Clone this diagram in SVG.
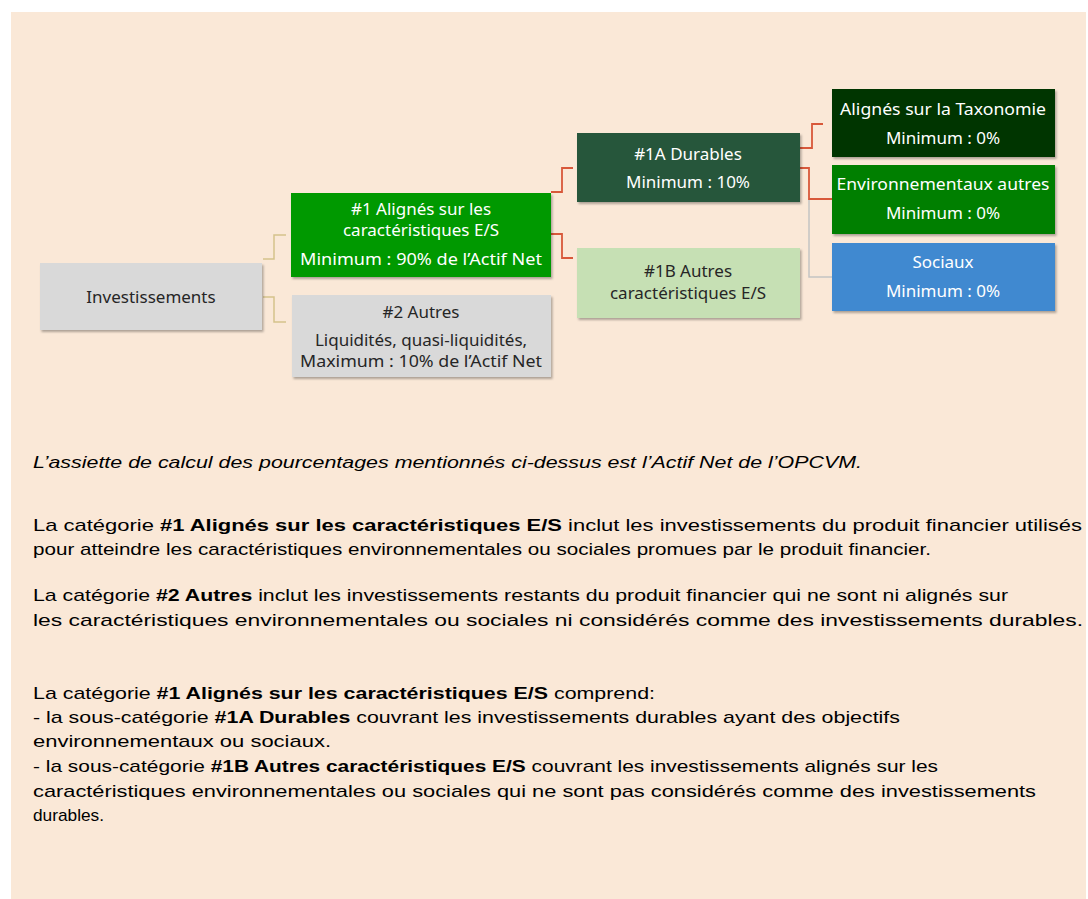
<svg xmlns="http://www.w3.org/2000/svg" width="1088" height="899" viewBox="0 0 1088 899">
<defs>
<filter id="sh" x="-5%" y="-5%" width="115%" height="125%">
<feDropShadow dx="1.5" dy="2" stdDeviation="1.2" flood-color="#000" flood-opacity="0.3"/>
</filter>
<style>
.box{filter:url(#sh);}
.nt{font-family:"Noto Sans","DejaVu Sans",sans-serif;font-size:17px;text-anchor:middle;}
.w{fill:#ffffff;}
.d{fill:#262626;}
.tan{fill:none;stroke:#d5c28c;stroke-width:1.5;}
.red{fill:none;stroke:#d8583a;stroke-width:1.8;}
.gry{fill:none;stroke:#c4c4c4;stroke-width:1.5;}
.body{font-family:"Liberation Sans",Arial,sans-serif;font-size:17px;fill:#000;}
.b{font-weight:bold;}
</style>
</defs>
<rect x="11" y="12" width="1075" height="887" fill="#fae8d7"/>

<g id="connectors">
<path class="tan" d="M263,259 H274 V235 H286"/>
<path class="tan" d="M263,297 H274 V322 H286"/>
<path class="red" d="M551,192 H562 V168 H573"/>
<path class="red" d="M551,234 H562 V258 H573"/>
<path class="red" d="M800,148 H812 V124 H823"/>
<path class="gry" d="M809,199 V277 H832"/>
<path class="red" d="M800,168 H809 V199 H832"/>
</g>

<g id="investissements">
<rect class="box" x="40" y="263" width="222" height="67" fill="#d9d9d9"/>
<text class="nt d" x="151" y="303">Investissements</text>
</g>

<g id="n1">
<rect class="box" x="291" y="193" width="260" height="84" fill="#009900"/>
<text class="nt w" x="421" y="215">#1 Alignés sur les</text>
<text class="nt w" x="421" y="236">caractéristiques E/S</text>
<text class="nt w" x="421" y="265" textLength="242" lengthAdjust="spacingAndGlyphs">Minimum : 90% de l’Actif Net</text>
</g>

<g id="n2">
<rect class="box" x="292" y="295" width="259" height="82" fill="#d9d9d9"/>
<text class="nt d" x="421" y="318">#2 Autres</text>
<text class="nt d" x="421" y="346">Liquidités, quasi-liquidités,</text>
<text class="nt d" x="421" y="367" textLength="242" lengthAdjust="spacingAndGlyphs">Maximum : 10% de l’Actif Net</text>
</g>

<g id="n1a">
<rect class="box" x="577" y="133" width="223" height="69" fill="#26573a"/>
<text class="nt w" x="688" y="160">#1A Durables</text>
<text class="nt w" x="688" y="188">Minimum : 10%</text>
</g>

<g id="n1b">
<rect class="box" x="577" y="248" width="223" height="70" fill="#c6e0b4"/>
<text class="nt d" x="688" y="277">#1B Autres</text>
<text class="nt d" x="688" y="299">caractéristiques E/S</text>
</g>

<g id="taxo">
<rect class="box" x="832" y="89" width="223" height="68" fill="#023602"/>
<text class="nt w" x="943" y="115" textLength="206" lengthAdjust="spacingAndGlyphs">Alignés sur la Taxonomie</text>
<text class="nt w" x="943" y="144">Minimum : 0%</text>
</g>

<g id="env">
<rect class="box" x="832" y="165" width="223" height="69" fill="#007f00"/>
<text class="nt w" x="943" y="190" textLength="213" lengthAdjust="spacingAndGlyphs">Environnementaux autres</text>
<text class="nt w" x="943" y="219">Minimum : 0%</text>
</g>

<g id="soc">
<rect class="box" x="832" y="243" width="223" height="68" fill="#4089d0"/>
<text class="nt w" x="943" y="268">Sociaux</text>
<text class="nt w" x="943" y="297">Minimum : 0%</text>
</g>

<g id="texte">
<text class="body" x="33" y="468" font-style="italic" textLength="829" lengthAdjust="spacingAndGlyphs">L’assiette de calcul des pourcentages mentionnés ci-dessus est l’Actif Net de l’OPCVM.</text>
<text class="body" x="33" y="531" textLength="1049" lengthAdjust="spacingAndGlyphs">La catégorie <tspan class="b">#1 Alignés sur les caractéristiques E/S</tspan> inclut les investissements du produit financier utilisés</text>
<text class="body" x="33" y="555" textLength="898" lengthAdjust="spacingAndGlyphs">pour atteindre les caractéristiques environnementales ou sociales promues par le produit financier.</text>
<text class="body" x="33" y="601" textLength="975" lengthAdjust="spacingAndGlyphs">La catégorie <tspan class="b">#2 Autres</tspan> inclut les investissements restants du produit financier qui ne sont ni alignés sur</text>
<text class="body" x="33" y="626" textLength="1050" lengthAdjust="spacingAndGlyphs">les caractéristiques environnementales ou sociales ni considérés comme des investissements durables.</text>
<text class="body" x="33" y="699" textLength="622" lengthAdjust="spacingAndGlyphs">La catégorie <tspan class="b">#1 Alignés sur les caractéristiques E/S</tspan> comprend:</text>
<text class="body" x="33" y="723" textLength="867" lengthAdjust="spacingAndGlyphs">- la sous-catégorie <tspan class="b">#1A Durables</tspan> couvrant les investissements durables ayant des objectifs</text>
<text class="body" x="33" y="747" textLength="298" lengthAdjust="spacingAndGlyphs">environnementaux ou sociaux.</text>
<text class="body" x="33" y="772" textLength="905" lengthAdjust="spacingAndGlyphs">- la sous-catégorie <tspan class="b">#1B Autres caractéristiques E/S</tspan> couvrant les investissements alignés sur les</text>
<text class="body" x="33" y="797" textLength="1003" lengthAdjust="spacingAndGlyphs">caractéristiques environnementales ou sociales qui ne sont pas considérés comme des investissements</text>
<text class="body" x="33" y="821" textLength="71" lengthAdjust="spacingAndGlyphs">durables.</text>
</g>
</svg>
